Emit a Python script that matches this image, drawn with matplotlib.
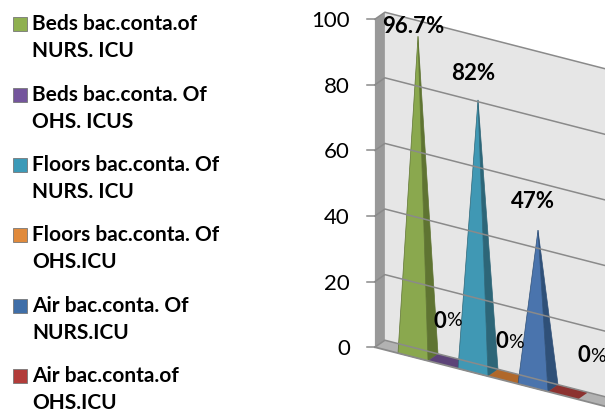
import matplotlib
matplotlib.use('Agg')
import matplotlib.pyplot as plt
from matplotlib.patches import Polygon, Rectangle

names = ['Beds bac.conta.of\nNURS. ICU', 'Beds bac.conta. Of\nOHS. ICUS',
         'Floors bac.conta. Of\nNURS. ICU', 'Floors bac.conta. Of\nOHS.ICU',
         'Air bac.conta. Of\nNURS.ICU', 'Air bac.conta.of\nOHS.ICU']
values = [96.7, 0, 82, 0, 47, 0]
yticks = [0, 20, 40, 60, 80, 100]
light = ['#8aa84e', '#5c4378', '#4098b4', '#b0682a', '#4a74ad', '#8c3230']
dark = ['#5f7432', '#4a3563', '#2d6678', '#8c5220', '#2f5078', '#702826']
legend_col = ['#8fb050', '#74559c', '#3c9ab8', '#e08a3c', '#3f6ea8', '#b23c3a']

plt.rcParams['font.family'] = ['Lato', 'DejaVu Sans']

fig = plt.figure(figsize=(6.05, 4.12), dpi=100)
ax = fig.add_axes([0, 0, 1, 1])
ax.set_xlim(0, 605)
ax.set_ylim(412, 0)
ax.axis('off')

# oblique projection: pos along the floor, dep into the wall (-1 front, 1 back), val up
def proj(pos, dep, val):
    x = 418 + 30 * pos + 5 * dep
    y = 353.5 + 7.7 * pos - 3.5 * dep - 3.28 * val
    return x, y

# position along the floor for the wall ends
p0 = -1.27
p1 = 6.5

# walls and floor
ax.add_patch(Polygon([proj(p0, 1, 0), proj(p1, 1, 0), proj(p1, 1, 100), proj(p0, 1, 100)], fc='#e6e6e6', ec='none'))
ax.add_patch(Polygon([proj(p0, -1, 0), proj(p0, 1, 0), proj(p0, 1, 100), proj(p0, -1, 100)], fc='#999999', ec='none'))
ax.add_patch(Polygon([proj(p0, -1, 0), proj(p1, -1, 0), proj(p1, 1, 0), proj(p0, 1, 0)], fc='#b2b2b2', ec='none'))

for t in yticks:
    a = proj(p0, -1, t)
    b = proj(p0, 1, t)
    c = proj(p1, 1, t)
    ax.plot([a[0], b[0], c[0]], [a[1], b[1], c[1]], color='#8a8a8a', lw=1.1)
    ax.plot([a[0] - 8, a[0]], [a[1], a[1]], color='#8a8a8a', lw=1.1)
    ax.text(a[0] - 25, a[1] + 2, str(t), ha='right', va='center', fontsize=16, color='black')

a = proj(p0, -1, 0)
b = proj(p1, -1, 0)
ax.plot([a[0], b[0]], [a[1], b[1]], color='#8a8a8a', lw=1.3)

# pyramids
for i, v in enumerate(values):
    fl = proj(i - 0.5, -1, 0)
    fr = proj(i + 0.5, -1, 0)
    br = proj(i + 0.5, 1, 0)
    bl = proj(i - 0.5, 1, 0)
    top = proj(i, 0, v)
    if v == 0:
        ax.add_patch(Polygon([fl, fr, br, bl], fc=light[i], ec='none'))
    else:
        ax.add_patch(Polygon([fr, br, top], fc=dark[i], ec=dark[i], lw=0.5))
        ax.add_patch(Polygon([fl, fr, top], fc=light[i], ec=dark[i], lw=0.5))

# data labels
label_xy = [(413, 26), (446, 321), (473, 73), (508, 342), (533, 201), (590, 356)]
for v, (x, y) in zip(values, label_xy):
    if v == 0:
        ax.text(x, y, '0', ha='right', va='center', fontsize=16, fontweight='bold')
        ax.text(x, y, '%', ha='left', va='center', fontsize=14)
    else:
        ax.text(x, y, f'{v:g}%', ha='center', va='center', fontsize=16, fontweight='bold')

# legend
leg_y = [24, 95, 165, 235, 306, 376]
for name, col, y in zip(names, legend_col, leg_y):
    ax.add_patch(Rectangle((12.5, y - 7), 14, 14, fc=col, ec='#777777', lw=0.6))
    first, second = name.split('\n')
    ax.text(32, y, first, ha='left', va='center', fontsize=15, fontweight='bold')
    ax.text(32, y + 27, second, ha='left', va='center', fontsize=15, fontweight='bold')

fig.savefig('out.png', dpi=100)
